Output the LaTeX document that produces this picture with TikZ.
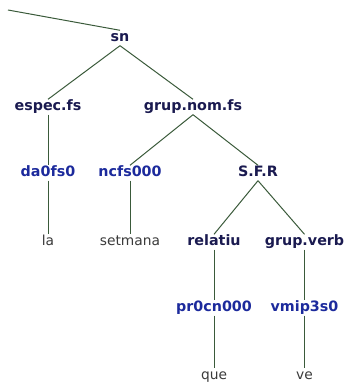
\documentclass[tikz,border=0pt]{standalone}
\usepackage{fontspec}
\setmainfont{DejaVu Sans}
\definecolor{TreeNavy}{HTML}{1A1A50}
\definecolor{TreeBlue}{HTML}{1C2A9C}
\definecolor{TreeGray}{HTML}{3A3A3A}
\definecolor{TreeGreen}{HTML}{3A5A3A}
\usetikzlibrary{positioning}

\begin{document}
\begin{tikzpicture}[x=1pt, y=-1pt,
   cat/.style={font=\bfseries\fontsize{14.3}{16}\selectfont, text=TreeNavy,
      inner sep=1pt, text height=10pt, text depth=3pt},
   tag/.style={cat, text=TreeBlue},
   word/.style={font=\fontsize{13.8}{16}\selectfont, text=TreeGray,
      inner sep=1pt, text height=10pt, text depth=3pt},
   branch/.style={TreeGreen, line width=1pt}]
            \useasboundingbox (0,0) rectangle (345,387);
            % Categories
            \node[cat] (sn) at (120,38) {sn};
            \node[cat] (especfs) at (48,107) {espec.fs};
            \node[cat] (grupnomfs) at (193,107) {grup.nom.fs};
            \node[cat] (sfr) at (258,173) {S.F.R};
            \node[cat] (relatiu) at (214,242) {relatiu};
            \node[cat] (grupverb) at (304.5,242) {grup.verb};
            % Tags
            \node[tag] (da0fs0) at (48,173) {da0fs0};
            \node[tag] (ncfs000) at (130,173) {ncfs000};
            \node[tag] (pr0cn000) at (214,308) {pr0cn000};
            \node[tag] (vmip3s0) at (304.5,308) {vmip3s0};
            % Words
            \node[word] (la) at (48,242) {la};
            \node[word] (setmana) at (130,242) {setmana};
            \node[word] (que) at (214,376) {que};
            \node[word] (ve) at (304.5,376) {ve};
            % Branch from above
            \coordinate (up) at (8,10);
            \draw[branch] (up) -- (sn.north);
            % Branches
            \draw[branch] (sn.south) -- (especfs.north);
            \draw[branch] (sn.south) -- (grupnomfs.north);
            \draw[branch] (especfs.south) -- (da0fs0.north);
            \draw[branch] (grupnomfs.south) -- (ncfs000.north);
            \draw[branch] (grupnomfs.south) -- (sfr.north);
            \draw[branch] (da0fs0.south) -- (la.north);
            \draw[branch] (ncfs000.south) -- (setmana.north);
            \draw[branch] (sfr.south) -- (relatiu.north);
            \draw[branch] (sfr.south) -- (grupverb.north);
            \draw[branch] (relatiu.south) -- (pr0cn000.north);
            \draw[branch] (grupverb.south) -- (vmip3s0.north);
            \draw[branch] (pr0cn000.south) -- (que.north);
            \draw[branch] (vmip3s0.south) -- (ve.north);
         \end{tikzpicture}
\end{document}
